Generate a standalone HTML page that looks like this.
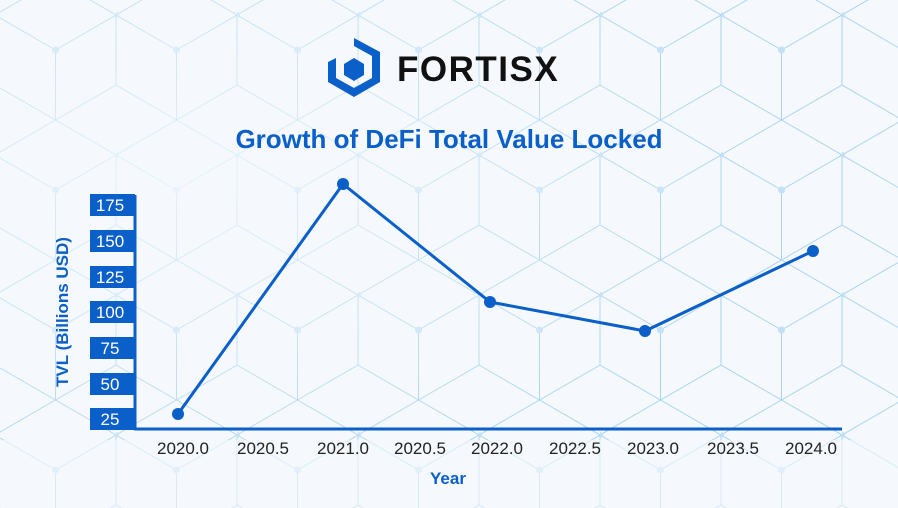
<!DOCTYPE html>
<html><head><meta charset="utf-8"><style>
html,body{margin:0;padding:0;width:898px;height:508px;overflow:hidden;background:#f5f9fd;}
svg{display:block}
</style></head><body>
<svg width="898" height="508" viewBox="0 0 898 508" xmlns="http://www.w3.org/2000/svg">
<defs>
<pattern id="hex" width="121" height="140" patternUnits="userSpaceOnUse" x="-5" y="-20">
<g fill="none" stroke="#a9d3f0" stroke-width="1">
<path d="M60.5 0 L121 35 L121 105 L60.5 140 L0 105 L0 35 Z"/>
<path d="M60.5 70 L60.5 140 M60.5 70 L0 35 M60.5 70 L121 35"/>
</g>
<circle cx="60.5" cy="70" r="3.5" fill="#c4e0f5"/>
<circle cx="0" cy="35" r="3" fill="#c4e0f5"/>
</pattern>
<radialGradient id="fade" cx="0.2" cy="0.35" r="0.65">
<stop offset="0" stop-color="#f5f9fd" stop-opacity="0.8"/>
<stop offset="1" stop-color="#f5f9fd" stop-opacity="0"/>
</radialGradient>
</defs>
<rect width="898" height="508" fill="#f5f9fd"/>
<rect width="898" height="508" fill="url(#hex)"/>
<rect width="898" height="508" fill="url(#fade)"/>
<rect x="0" y="440" width="898" height="68" fill="#f5f9fd" opacity="0.6"/>

<g fill="#0a5fc8">
<path d="M354 38 L380 52 L380 82 L354 97 L328 82 L328 62 L336 58 L336 78 L354 88 L372 78 L372 56 L354 46 Z"/>
<path d="M354 58 L364 64 L364 75 L354 81 L344 75 L344 64 Z"/>
</g>
<text x="397" y="81" font-family="Liberation Sans, sans-serif" font-weight="bold" font-size="35" fill="#111" letter-spacing="1.5">FORTISX</text>

<text x="449" y="148" text-anchor="middle" font-family="Liberation Sans, sans-serif" font-weight="bold" font-size="26" fill="#0a5fc8">Growth of DeFi Total Value Locked</text>

<line x1="135" y1="195" x2="135" y2="429" stroke="#0a5fc8" stroke-width="3"/>
<line x1="134" y1="429" x2="842" y2="429" stroke="#0a5fc8" stroke-width="3"/>
<g fill="#0a5fc8">
<rect x="90" y="194" width="45" height="22"/>
<rect x="90" y="230" width="45" height="22"/>
<rect x="90" y="266" width="45" height="22"/>
<rect x="90" y="301" width="45" height="22"/>
<rect x="90" y="337" width="45" height="22"/>
<rect x="90" y="373" width="45" height="22"/>
<rect x="90" y="408" width="45" height="22"/>
</g>
<g font-family="Liberation Sans, sans-serif" font-size="17" fill="#fff" text-anchor="middle">
<text x="110" y="211">175</text>
<text x="110" y="247">150</text>
<text x="110" y="283">125</text>
<text x="110" y="318">100</text>
<text x="110" y="354">75</text>
<text x="110" y="390">50</text>
<text x="110" y="425">25</text>
</g>
<text transform="translate(68,312) rotate(-90)" text-anchor="middle" font-family="Liberation Sans, sans-serif" font-weight="bold" font-size="17" fill="#0a5fc8">TVL (Billions USD)</text>

<g font-family="Liberation Sans, sans-serif" font-size="17" fill="#222" text-anchor="middle">
<text x="183" y="454">2020.0</text>
<text x="263" y="454">2020.5</text>
<text x="343" y="454">2021.0</text>
<text x="420" y="454">2020.5</text>
<text x="497" y="454">2022.0</text>
<text x="575" y="454">2022.5</text>
<text x="653" y="454">2023.0</text>
<text x="733" y="454">2023.5</text>
<text x="811" y="454">2024.0</text>
</g>
<text x="448" y="484" text-anchor="middle" font-family="Liberation Sans, sans-serif" font-weight="bold" font-size="17" fill="#0a5fc8">Year</text>

<polyline points="178,414 343,184 490,302 645,331 813,251" fill="none" stroke="#0a5fc8" stroke-width="3"/>
<g fill="#0a5fc8">
<circle cx="178" cy="414" r="6"/>
<circle cx="343" cy="184" r="6"/>
<circle cx="490" cy="302" r="6"/>
<circle cx="645" cy="331" r="6"/>
<circle cx="813" cy="251" r="6"/>
</g>
</svg>
</body></html>
